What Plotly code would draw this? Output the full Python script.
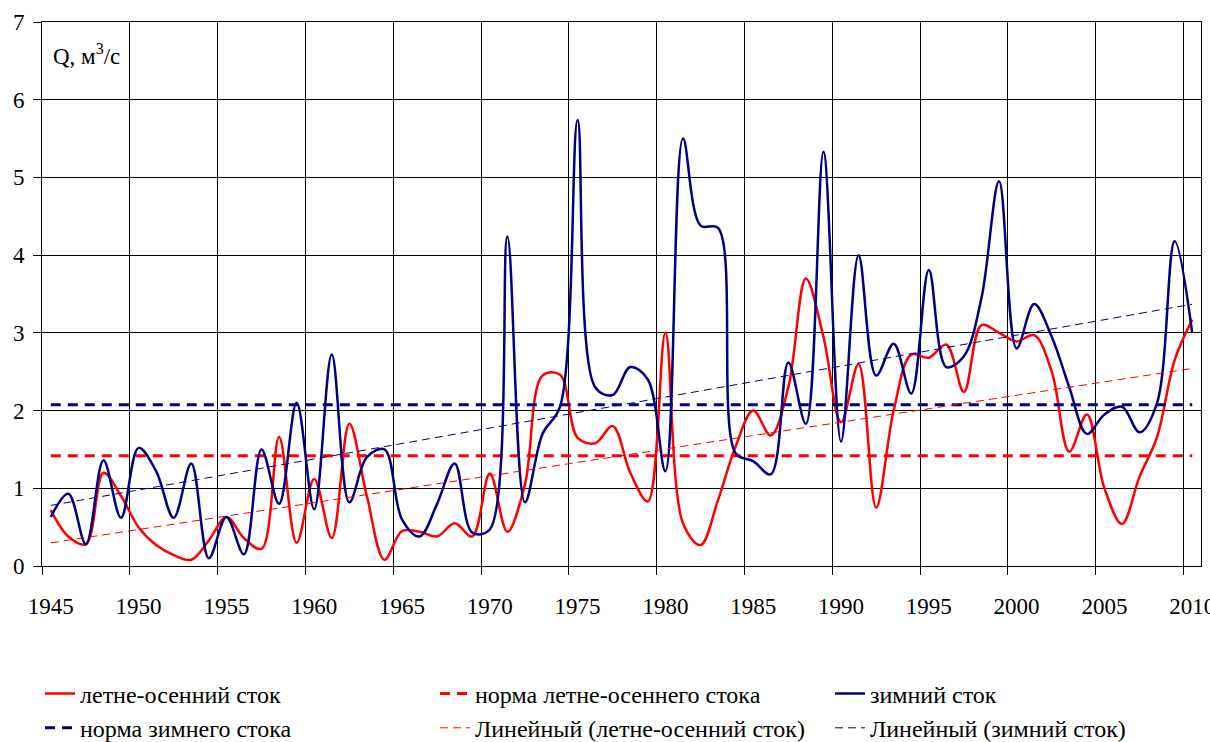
import numpy as np
import plotly.graph_objects as go

# Годы наблюдений
YEARS = list(range(1945, 2011))

# Летне-осенний сток, м3/с
SUMMER = [
    0.72, 0.38, 0.28, 1.20, 0.90, 0.50, 0.27, 0.14, 0.08, 0.33,
    0.63, 0.36, 0.22, 1.66, 0.30, 1.12, 0.36, 1.83, 0.90, 0.08,
    0.45, 0.44, 0.38, 0.55, 0.38, 1.19, 0.44, 1.05, 2.45, 2.46,
    1.65, 1.58, 1.80, 1.20, 0.83, 3.00, 0.55, 0.27, 0.85, 1.54,
    2.00, 1.68, 2.30, 3.70, 2.95, 1.85, 2.60, 0.75, 2.00, 2.72,
    2.68, 2.85, 2.24, 3.10, 3.00, 2.89, 2.97, 2.50, 1.47, 1.95,
    1.00, 0.54, 1.15, 1.66, 2.65, 3.17,
]

# Зимний сток, м3/с
WINTER = [
    0.63, 0.93, 0.28, 1.36, 0.62, 1.52, 1.22, 0.62, 1.32, 0.10,
    0.63, 0.15, 1.50, 0.80, 2.10, 0.73, 2.72, 0.82, 1.40, 1.50,
    0.60, 0.38, 0.80, 1.32, 0.43, 0.47, 4.24, 0.82, 1.70, 2.05,
    5.74, 2.30, 2.20, 2.56, 2.40, 1.22, 5.50, 4.38, 4.35, 1.45,
    1.35, 1.18, 2.62, 1.83, 5.33, 1.60, 4.00, 2.45, 2.86, 2.22,
    3.81, 2.56, 2.70, 3.45, 4.95, 2.80, 3.37, 2.95, 2.30, 1.70,
    1.95, 2.05, 1.72, 2.10, 4.18, 3.00,
]

X_LABELS = list(range(1945, 2011, 5))

RED = "#FF0000"
NAVY = "#000080"
FONT = "Liberation Serif"

years = np.array(YEARS, dtype=float)
summer = np.array(SUMMER)
winter = np.array(WINTER)

# Норма = среднее многолетнее; линейные тренды по МНК
norm_summer = summer.mean()
norm_winter = winter.mean()
ks, bs = np.polyfit(years, summer, 1)
kw, bw = np.polyfit(years, winter, 1)

fig = go.Figure()
# Legend columns: legend (left), legend2 (middle), legend3 (right)
fig.add_trace(go.Scatter(
    x=YEARS, y=SUMMER, name="летне-осенний сток", mode="lines", legend="legend",
    line=dict(color=RED, width=2.5, shape="spline", smoothing=1.0),
))
fig.add_trace(go.Scatter(
    x=YEARS, y=[norm_summer] * len(YEARS), name="норма летне-осеннего стока",
    mode="lines", legend="legend2",
    line=dict(color=RED, width=3, dash="10px,7px"),
))
fig.add_trace(go.Scatter(
    x=YEARS, y=WINTER, name="зимний сток", mode="lines", legend="legend3",
    line=dict(color=NAVY, width=2.5, shape="spline", smoothing=1.0),
))
fig.add_trace(go.Scatter(
    x=YEARS, y=[norm_winter] * len(YEARS), name="норма зимнего стока",
    mode="lines", legend="legend",
    line=dict(color=NAVY, width=3, dash="10px,7px"),
))
fig.add_trace(go.Scatter(
    x=YEARS, y=(ks * years + bs).tolist(), name="Линейный (летне-осенний сток)",
    mode="lines", legend="legend2",
    line=dict(color=RED, width=1, dash="8px,5px"),
))
fig.add_trace(go.Scatter(
    x=YEARS, y=(kw * years + bw).tolist(), name="Линейный (зимний сток)",
    mode="lines", legend="legend3",
    line=dict(color=NAVY, width=1, dash="8px,5px"),
))


def column_legend(x_px):
    return dict(
        orientation="v", xref="container", x=x_px / 1210, xanchor="left",
        yref="container", y=0.095, yanchor="top",
        font=dict(family=FONT, size=24, color="black"),
        bgcolor="rgba(0,0,0,0)", traceorder="normal",
    )


fig.update_layout(
    width=1210, height=742,
    margin=dict(l=42, r=9, t=22, b=176, autoexpand=False),
    paper_bgcolor="white", plot_bgcolor="white",
    font=dict(family=FONT, size=23, color="black"),
    showlegend=True,
    legend=column_legend(40),
    legend2=column_legend(435),
    legend3=column_legend(830),
    annotations=[dict(
        text="Q, м<sup>3</sup>/с", xref="paper", yref="paper",
        x=0.008, y=0.94, xanchor="left", yanchor="middle",
        showarrow=False, font=dict(family=FONT, size=23, color="black"),
    )],
)

fig.update_xaxes(
    range=[1944.5, 2010.5],
    tickmode="array", tickvals=X_LABELS, ticktext=[str(v) for v in X_LABELS],
    ticks="", showgrid=False, zeroline=False, ticklabeloverflow="allow",
    ticklabelstandoff=19,
    showline=True, linecolor="black", linewidth=1, mirror=True,
    tickfont=dict(family=FONT, size=23, color="black"),
    minor=dict(
        tickmode="array", tickvals=[v - 0.5 for v in X_LABELS],
        ticks="outside", ticklen=8, tickcolor="black", tickwidth=1,
        showgrid=True, gridcolor="black", gridwidth=1,
    ),
)
fig.update_yaxes(
    range=[0, 7], tickmode="linear", tick0=0, dtick=1,
    ticks="outside", ticklen=8, tickcolor="black", ticklabelstandoff=4,
    showgrid=True, gridcolor="black", gridwidth=1, zeroline=False,
    showline=True, linecolor="black", linewidth=1, mirror=True,
    tickfont=dict(family=FONT, size=23, color="black"),
)

fig.write_html("out.html")
